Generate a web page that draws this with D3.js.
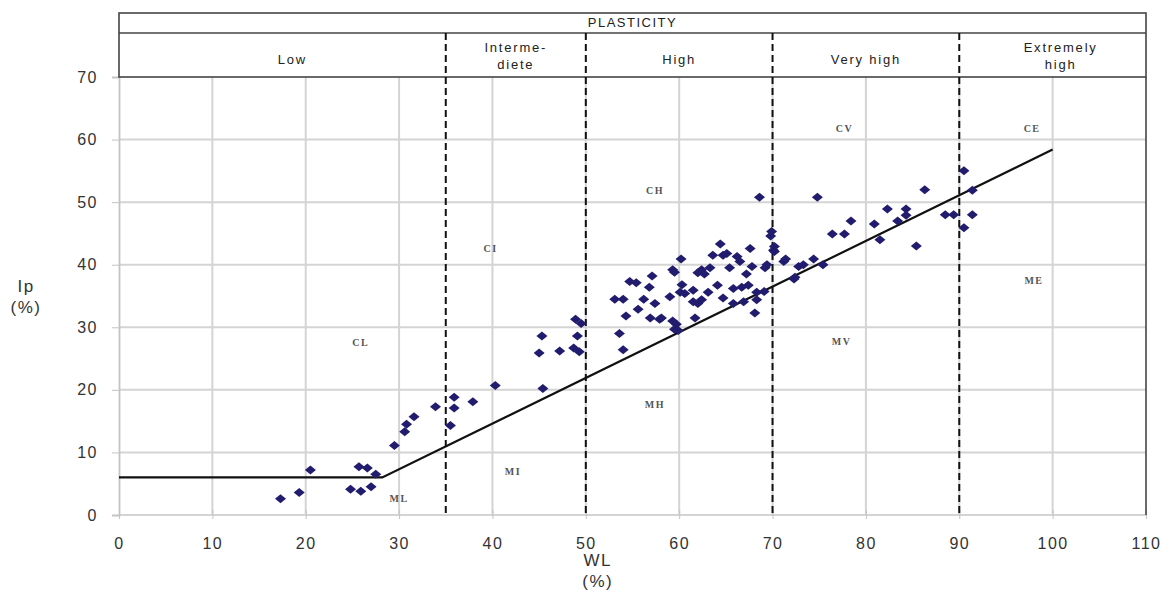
<!DOCTYPE html>
<html>
<head>
<meta charset="utf-8">
<script src="https://cdn.jsdelivr.net/npm/d3@7"></script>
<style>
  body { margin: 0; background: #fff; }
  svg { font-family: "Liberation Sans", Arial, sans-serif; }
</style>
</head>
<body>
<svg id="chart"></svg>
<script>
// liquid limit (WL, %) and plasticity index (Ip, %) of each sample
const wl = [
  17.3, 19.3, 20.5, 24.8, 25.9, 27.0, 25.7, 26.6, 27.5, 29.5,
  30.6, 30.8, 31.6, 33.9, 35.9, 35.9, 35.5, 37.9, 40.3, 45.4,
  45.3, 45.0, 47.2, 48.7, 49.1, 48.9, 49.5, 49.3,
  53.6, 54.0, 53.1, 54.0, 54.3, 54.7, 55.4, 55.6, 56.2, 56.8,
  57.1, 57.4, 56.9, 57.9, 58.1, 59.0, 59.3, 59.5, 60.2, 59.3,
  59.7, 59.5, 59.9, 60.1, 60.6, 61.5, 61.5, 62.0, 62.4, 61.7,
  62.0, 62.4, 62.7, 63.1, 63.3, 63.6, 64.1, 64.4, 64.7, 65.1,
  65.4, 65.8, 65.8, 66.2, 66.5, 66.7, 66.9, 67.2, 67.4, 67.6,
  67.8, 68.1, 68.3, 68.3, 69.2, 69.8, 70.1, 71.2, 72.8, 72.3,
  64.7, 69.1, 60.3,
  68.6, 69.9, 70.2, 70.2, 71.4, 69.4, 73.3, 74.4, 75.4, 72.4,
  74.8, 76.4, 77.7, 78.4, 80.9, 81.5, 82.3, 83.4, 84.3, 84.3,
  85.4, 86.3, 88.5, 89.4, 90.5, 90.5, 91.4, 91.4
];
const ip = [
  2.6, 3.6, 7.2, 4.1, 3.8, 4.5, 7.7, 7.5, 6.5, 11.1,
  13.3, 14.5, 15.7, 17.3, 18.8, 17.1, 14.3, 18.1, 20.7, 20.2,
  28.6, 25.9, 26.2, 26.7, 28.6, 31.3, 30.6, 26.1,
  29.0, 26.4, 34.5, 34.5, 31.8, 37.3, 37.1, 32.9, 34.5, 36.4,
  38.2, 33.8, 31.5, 31.3, 31.5, 34.9, 39.2, 38.8, 40.9, 31.0,
  30.5, 29.7, 29.5, 35.6, 35.4, 35.9, 34.1, 33.8, 34.4, 31.5,
  38.7, 39.2, 38.5, 35.6, 39.5, 41.5, 36.7, 43.3, 41.5, 41.8,
  39.5, 36.2, 33.8, 41.3, 40.5, 36.4, 34.1, 38.5, 36.7, 42.6,
  39.7, 32.3, 35.6, 34.4, 39.5, 44.6, 42.3, 40.5, 39.7, 37.7,
  34.7, 35.7, 36.8,
  50.8, 45.3, 42.9, 42.1, 40.9, 40.0, 40.0, 40.9, 40.0, 38.0,
  50.8, 44.9, 44.9, 47.0, 46.5, 44.0, 48.9, 47.0, 48.9, 47.9,
  43.0, 52.0, 48.0, 48.0, 55.0, 45.9, 51.9, 48.0
];

// A-line (Ip = 0.73 (WL - 20), floored at 6)
const aLineWl = [0, 28.2, 100];
const aLineIp = [6, 6, 58.4];

// plasticity class boundaries and headers
const classBounds = [0, 35, 50, 70, 90, 110];
const classNames = [["Low"], ["Interme-", "diete"], ["High"], ["Very high"], ["Extremely", "high"]];

// soil group labels placed in the chart
const groupNames = ["CL", "CI", "CH", "CV", "CE", "ML", "MI", "MH", "MV", "ME"];
const groupWl = [25.9, 39.8, 57.4, 77.7, 97.8, 30.0, 42.2, 57.4, 77.4, 98.0];
const groupIp = [27.5, 42.6, 51.9, 61.8, 61.8, 2.6, 7.0, 17.7, 27.8, 37.4];

const xTicks = d3.range(0, 111, 10);
const yTicks = d3.range(0, 71, 10);

const W = 1174, H = 590;
const svg = d3.select("#chart").attr("width", W).attr("height", H);

const x = d3.scaleLinear().domain([0, 110]).range([119, 1146]);
const y = d3.scaleLinear().domain([0, 70]).range([515, 77]);

const headTop = 13, headMid = 33;

// grid
svg.append("g")
  .selectAll("line.v")
  .data(xTicks.filter(d => d > 0 && d < 110))
  .join("line")
  .attr("x1", d => x(d)).attr("x2", d => x(d))
  .attr("y1", y(70)).attr("y2", y(0))
  .attr("stroke", "#d4d4d4").attr("stroke-width", 2);

svg.append("g")
  .selectAll("line.h")
  .data(yTicks.filter(d => d < 70))
  .join("line")
  .attr("x1", x(0)).attr("x2", x(110))
  .attr("y1", d => y(d)).attr("y2", d => y(d))
  .attr("stroke", "#d4d4d4").attr("stroke-width", 2);

// axes (light gray, like the grid)
const yAxis = svg.append("g")
  .attr("transform", `translate(${x(0)},0)`)
  .call(d3.axisLeft(y).tickValues(yTicks).tickSize(7).tickPadding(14))
yAxis.select(".domain").attr("stroke", "#c4c4c4").attr("stroke-width", 1.8);
yAxis.selectAll(".tick line").attr("stroke", "#c4c4c4");
yAxis.selectAll(".tick text")
  .attr("fill", "#333").attr("font-size", 16).attr("letter-spacing", 1.5)
  .attr("font-family", "'Liberation Sans', Arial, sans-serif");

const xAxis = svg.append("g")
  .attr("transform", `translate(0,${y(0)})`)
  .call(d3.axisBottom(x).tickValues(xTicks).tickSize(6).tickPadding(17))
xAxis.select(".domain").remove();
xAxis.selectAll(".tick line").attr("stroke", "#c4c4c4").attr("y1", -5).attr("y2", 4);
xAxis.selectAll(".tick text")
  .attr("fill", "#333").attr("font-size", 16).attr("letter-spacing", 1.5)
  .attr("font-family", "'Liberation Sans', Arial, sans-serif");

// header box
const head = svg.append("g");
head.append("rect")
  .attr("x", x(0)).attr("y", headTop)
  .attr("width", x(110) - x(0)).attr("height", y(70) - headTop)
  .attr("fill", "none").attr("stroke", "#444").attr("stroke-width", 1.6);
head.append("line")
  .attr("x1", x(0)).attr("x2", x(110))
  .attr("y1", headMid).attr("y2", headMid)
  .attr("stroke", "#444").attr("stroke-width", 1.6);
head.append("text")
  .attr("x", (x(0) + x(110)) / 2).attr("y", headMid - 6)
  .attr("text-anchor", "middle")
  .attr("font-size", 13).attr("letter-spacing", 1.5).attr("fill", "#222")
  .text("PLASTICITY");

classNames.forEach((lines, i) => {
  const cx = (x(classBounds[i]) + x(classBounds[i + 1])) / 2 + (i === 0 ? 10 : i === 4 ? 8 : 0);
  const t = head.append("text")
    .attr("text-anchor", "middle")
    .attr("font-size", 13).attr("letter-spacing", 1.8).attr("fill", "#222");
  const y0 = lines.length === 1 ? 64 : 52;
  lines.forEach((s, k) => {
    t.append("tspan").attr("x", cx).attr("y", y0 + k * 17).text(s);
  });
});

// right frame line
svg.append("line")
  .attr("x1", x(110)).attr("x2", x(110))
  .attr("y1", y(70)).attr("y2", y(0))
  .attr("stroke", "#444").attr("stroke-width", 1.6);

// dashed class boundaries
svg.append("g")
  .selectAll("line")
  .data(classBounds.slice(1, -1))
  .join("line")
  .attr("x1", d => x(d)).attr("x2", d => x(d))
  .attr("y1", headMid).attr("y2", y(0))
  .attr("stroke", "#111").attr("stroke-width", 2)
  .attr("stroke-dasharray", "7,4");

// A-line
svg.append("path")
  .datum(d3.zip(aLineWl, aLineIp))
  .attr("d", d3.line().x(d => x(d[0])).y(d => y(d[1])))
  .attr("fill", "none").attr("stroke", "#111").attr("stroke-width", 2.2);

// group labels
svg.append("g")
  .selectAll("text")
  .data(groupNames)
  .join("text")
  .attr("x", (d, i) => x(groupWl[i]))
  .attr("y", (d, i) => y(groupIp[i]))
  .attr("text-anchor", "middle").attr("dy", "0.35em")
  .attr("font-family", "'Liberation Serif', 'Times New Roman', serif")
  .attr("font-size", 10).attr("font-weight", "bold")
  .attr("letter-spacing", 1.5).attr("fill", "#555")
  .text(d => d);

// samples
svg.append("g")
  .selectAll("path")
  .data(d3.zip(wl, ip))
  .join("path")
  .attr("transform", d => `translate(${x(d[0])},${y(d[1])})`)
  .attr("d", "M0,-4.5L5.5,0L0,4.5L-5.5,0Z")
  .attr("fill", "#221c6e");

// axis titles
const title = (cx, cy, lines) => {
  const t = svg.append("text")
    .attr("text-anchor", "middle").attr("font-size", 17)
    .attr("letter-spacing", 1.5).attr("fill", "#333");
  lines.forEach((s, k) => t.append("tspan").attr("x", cx).attr("y", cy + k * 21).text(s));
};
title(x(50) + 12, 566, ["WL", "(%)"]);
title(26, 292, ["Ip", "(%)"]);
</script>
</body>
</html>
